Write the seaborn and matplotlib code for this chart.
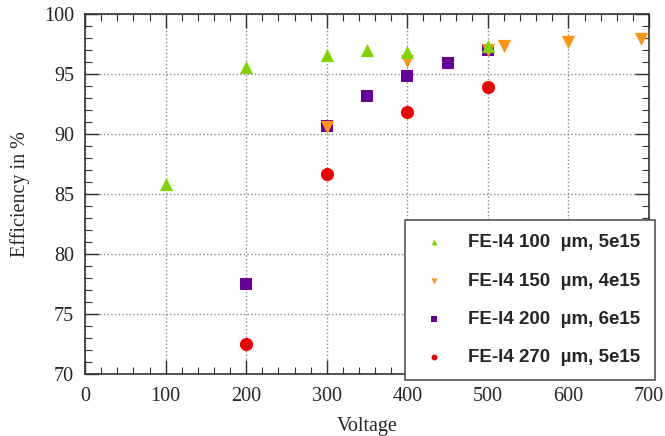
import numpy as np
import pandas as pd
import matplotlib
matplotlib.use("Agg")
import matplotlib.pyplot as plt
from matplotlib.ticker import MultipleLocator
import seaborn as sns

# data
v_100 = [100, 200, 300, 350, 400, 500]
eff_100 = [85.8, 95.6, 96.6, 97.0, 96.8, 97.3]
v_150 = [300, 400, 500, 520, 600, 690]
eff_150 = [90.6, 96.1, 97.0, 97.3, 97.7, 97.9]
v_200 = [200, 300, 350, 400, 450, 500]
eff_200 = [77.5, 90.7, 93.2, 94.8, 95.9, 97.0]
v_270 = [200, 300, 400, 500]
eff_270 = [72.5, 86.7, 91.8, 93.9]

labels = ["FE-I4 100  \u00b5m, 5e15", "FE-I4 150  \u00b5m, 4e15",
          "FE-I4 200  \u00b5m, 6e15", "FE-I4 270  \u00b5m, 5e15"]
colors = ["#7fd400", "#ff9412", "#660099", "#ee0000"]
markers = ["^", "v", "s", "o"]
sizes = [90, 90, 65, 90]
zorders = [6, 5, 4, 3]

df = pd.concat([
    pd.DataFrame({"Voltage": v, "Efficiency": e, "sensor": lab})
    for v, e, lab in zip([v_100, v_150, v_200, v_270],
                         [eff_100, eff_150, eff_200, eff_270], labels)
])

sns.set_style("white")
plt.rcParams["font.family"] = ["Liberation Serif", "DejaVu Serif"]

fig = plt.figure(figsize=(6.65, 4.36), dpi=100)
ax = fig.add_axes([0.128, 0.142, 0.848, 0.826])

for lab, col, mk, s, z in zip(labels, colors, markers, sizes, zorders):
    sub = df[df["sensor"] == lab]
    sns.scatterplot(data=sub, x="Voltage", y="Efficiency", color=col, marker=mk,
                    s=s, linewidth=0, ax=ax, label=lab, zorder=z)

ax.set_xlim(0, 700)
ax.set_ylim(70, 100)
ax.xaxis.set_major_locator(MultipleLocator(100))
ax.xaxis.set_minor_locator(MultipleLocator(20))
ax.yaxis.set_major_locator(MultipleLocator(5))
ax.yaxis.set_minor_locator(MultipleLocator(1))
ax.tick_params(which="both", direction="in", top=True, right=True,
               bottom=True, left=True, color="#333333")
ax.tick_params(which="major", length=10, width=1, labelsize=14.5)
ax.tick_params(axis="x", which="major", pad=9)
ax.tick_params(axis="y", which="major", pad=8)
ax.tick_params(which="minor", length=5, width=0.8)
ax.grid(True, which="major", linestyle=":", color="#888888", linewidth=1)
for sp in ax.spines.values():
    sp.set_color("#333333")
    sp.set_linewidth(1.2)

ax.set_xlabel("Voltage", fontsize=14.5, labelpad=8)
ax.set_ylabel("Efficiency in %", fontsize=14.5, labelpad=10)

leg = ax.legend(loc="lower left", bbox_to_anchor=(0.567, -0.016, 0.444, 0.427),
                mode="expand", borderaxespad=0, markerscale=0.45,
                fancybox=False, frameon=True, borderpad=0.75, labelspacing=1.12,
                handlelength=1.6, handletextpad=1.0,
                prop={"family": "Liberation Sans", "weight": "bold", "size": 13.5})
leg.get_frame().set_edgecolor("#555555")
leg.get_frame().set_linewidth(1.2)
leg.get_frame().set_alpha(1)
leg.set_zorder(10)

fig.savefig("out.png", dpi=100)
